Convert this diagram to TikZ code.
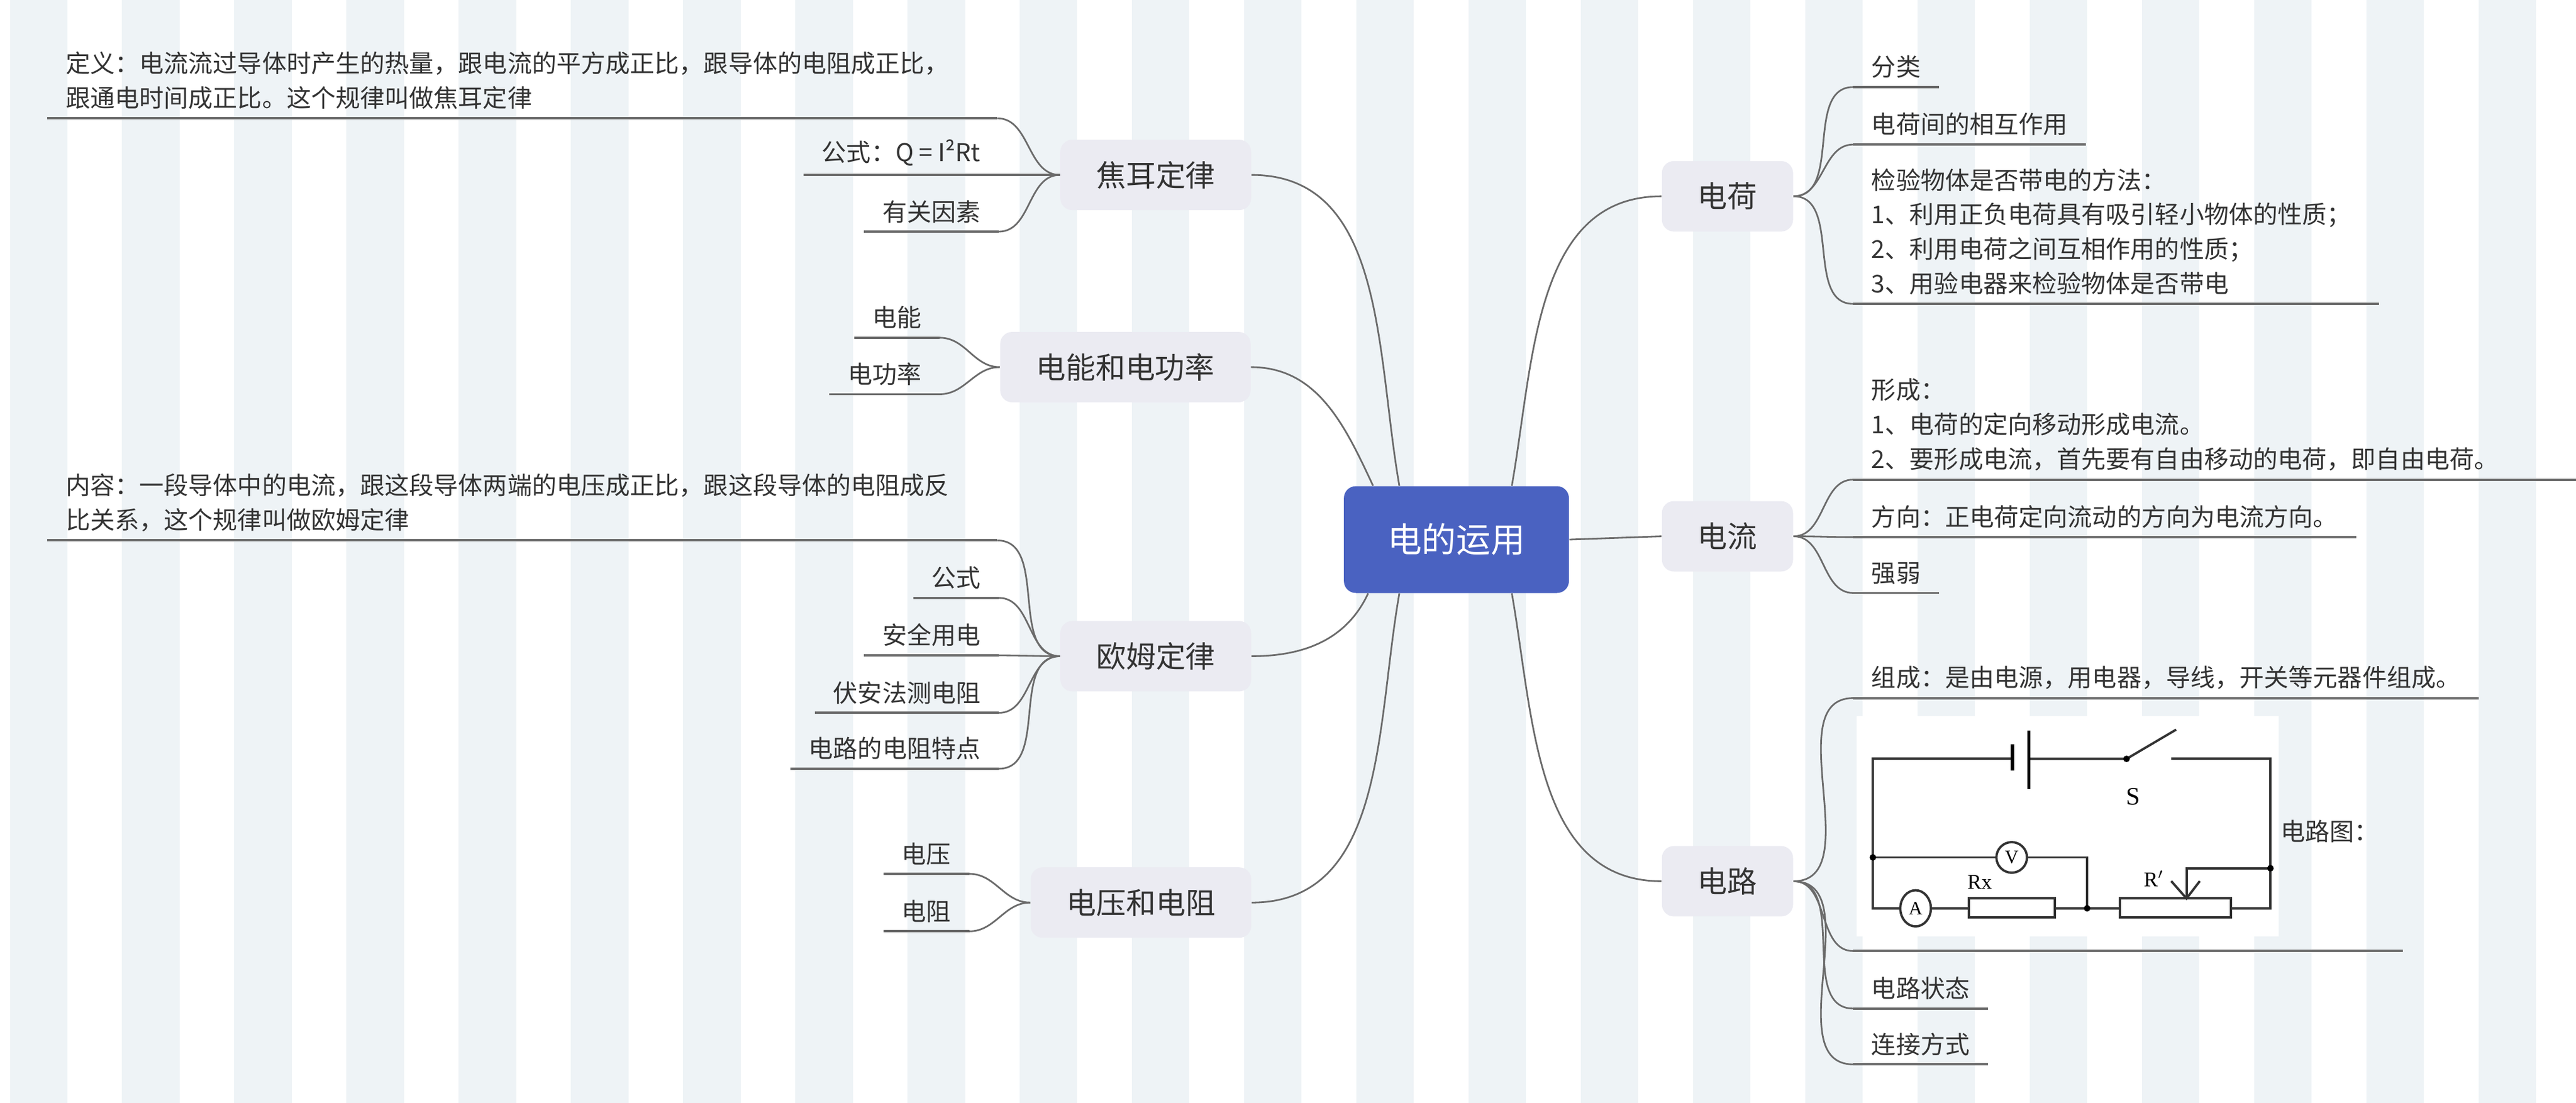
\documentclass[tikz,border=0pt]{standalone}
\usepackage{fontspec}
\setmainfont{Noto Sans CJK SC}
\newfontfamily\circfont{Liberation Serif}
\usetikzlibrary{positioning,calc}
\definecolor{rootblue}{HTML}{4A62C1}
\definecolor{topicgray}{HTML}{EBEBF2}
\definecolor{linegray}{HTML}{6B6B6B}
\definecolor{stripe}{HTML}{EEF3F6}
\definecolor{txt}{HTML}{333333}

\begin{document}
\begin{tikzpicture}[x=0.02752cm,y=-0.02752cm,
   root/.style = {fill=rootblue, rounded corners=0.2cm, text=white,
      minimum width=3.77cm, minimum height=1.79cm, font=\fontsize{16.4}{20}\selectfont},
   topic/.style = {fill=topicgray, rounded corners=0.2cm, text=txt, inner xsep=0.6cm,
      minimum height=1.18cm, font=\fontsize{14.2}{17}\selectfont},
   leafr/.style = {anchor=south west, inner xsep=0.3cm, inner ysep=0.14cm, text=txt,
      align=left, font=\fontsize{11.7}{16.5}\selectfont},
   leafl/.style = {leafr, anchor=south east},
   branch/.style = {draw=linegray, line width=0.8pt},
   uline/.style = {draw=linegray, line width=1.1pt},
   wire/.style = {draw=black!80, line width=1.1pt}]

   \useasboundingbox (0,0) rectangle (1568,671.5);
   \foreach \k in {0,...,22}
      \fill[stripe] ({6+68.3*\k},0) rectangle ++(35,671.5);

   % main topics
   \node[root]  (root)     at (886.5,328.5) {电的运用};
   \node[topic] (jiaoer)   at (703.5,106.5) {焦耳定律};
   \node[topic] (dianneng) at (685,223.5)   {电能和电功率};
   \node[topic] (oumu)     at (703.5,399.5) {欧姆定律};
   \node[topic] (dianya)   at (694.5,549.5) {电压和电阻};
   \node[topic] (dianhe)   at (1051.5,119.5) {电荷};
   \node[topic] (dianliu)  at (1051.5,326.5) {电流};
   \node[topic] (dianlu)   at (1051.5,536.5) {电路};

   \draw[branch] (jiaoer.east)   to[out=0,in=100]  ($(root.north west)+(34,0)$);
   \draw[branch] (dianneng.east) to[out=0,in=115]  ($(root.north west)+(18,0)$);
   \draw[branch] (oumu.east)     to[out=0,in=-115] ($(root.south west)+(15,0)$);
   \draw[branch] (dianya.east)   to[out=0,in=-100] ($(root.south west)+(34,0)$);
   \draw[branch] ($(root.north east)+(-35,0)$) to[out=80,in=180]  (dianhe.west);
   \draw[branch] (root.east) -- (dianliu.west);
   \draw[branch] ($(root.south east)+(-35,0)$) to[out=-80,in=180] (dianlu.west);

   % left leaves
   \node[leafl, text width=15.3cm] (dingyi) at (607,72)
      {定义：电流流过导体时产生的热量，跟电流的平方成正比，跟导体的电阻成正比，\\跟通电时间成正比。这个规律叫做焦耳定律};
   \node[leafl] (gongshi) at (608,106.5) {公式：Q = I²Rt};
   \node[leafl] (yinsu)   at (608,141)   {有关因素};
   \node[leafl] (dn)      at (572,205.6) {电能};
   \node[leafl] (dgl)     at (572,240)   {电功率};
   \node[leafl, text width=15.3cm] (neirong) at (607,329)
      {内容：一段导体中的电流，跟这段导体两端的电压成正比，跟这段导体的电阻成反\\比关系，这个规律叫做欧姆定律};
   \node[leafl] (gongshib) at (608,364) {公式};
   \node[leafl] (anquan)   at (608,399) {安全用电};
   \node[leafl] (fuan)     at (608,434) {伏安法测电阻};
   \node[leafl] (tedian)   at (608,468) {电路的电阻特点};
   \node[leafl] (dy)       at (590,532) {电压};
   \node[leafl] (dz)       at (590,567) {电阻};

   \foreach \p/\c in {jiaoer/dingyi,jiaoer/yinsu,dianneng/dn,dianneng/dgl,
         oumu/neirong,oumu/gongshib,oumu/anquan,oumu/fuan,oumu/tedian,
         dianya/dy,dianya/dz}
      \draw[branch] (\p.west) to[out=180,in=0] (\c.south east);
   \draw[uline] (jiaoer.west) -- (gongshi.south east);
   \foreach \c in {dingyi,gongshi,yinsu,dn,dgl,neirong,gongshib,anquan,fuan,tedian,dy,dz}
      \draw[uline] (\c.south west) -- (\c.south east);

   % right leaves
   \node[leafr] (fenlei)  at (1128,53) {分类};
   \node[leafr] (xianghu) at (1128,88) {电荷间的相互作用};
   \node[leafr, text width=8.2cm] (jianyan) at (1128,185)
      {检验物体是否带电的方法：\\1、利用正负电荷具有吸引轻小物体的性质；\\2、利用电荷之间互相作用的性质；\\3、用验电器来检验物体是否带电};
   \node[leafr, text width=11.6cm] (xingcheng) at (1128,292)
      {形成：\\1、电荷的定向移动形成电流。\\2、要形成电流，首先要有自由移动的电荷，即自由电荷。};
   \node[leafr] (fangxiang) at (1128,327) {方向：正电荷定向流动的方向为电流方向。};
   \node[leafr] (qiangruo)  at (1128,361) {强弱};
   \node[leafr] (zucheng)   at (1128,425) {组成：是由电源，用电器，导线，开关等元器件组成。};
   \node[leafr, minimum width=9.2cm, minimum height=3.9cm] (tu) at (1128,579) {};
   \node[text=txt, font=\fontsize{11.7}{14}\selectfont] (tulabel) at (1418,506) {电路图：};
   \node[leafr] (zhuangtai) at (1128,614) {电路状态};
   \node[leafr] (lianjie)   at (1128,648) {连接方式};

   \foreach \p/\c in {dianhe/fenlei,dianhe/xianghu,dianhe/jianyan,
         dianliu/xingcheng,dianliu/fangxiang,dianliu/qiangruo,
         dianlu/zucheng,dianlu/tu,dianlu/zhuangtai,dianlu/lianjie}
      \draw[branch] (\p.east) to[out=0,in=180] (\c.south west);
   \foreach \c in {fenlei,xianghu,jianyan,xingcheng,fangxiang,qiangruo,zucheng,tu,zhuangtai,lianjie}
      \draw[uline] (\c.south west) -- (\c.south east);

   % circuit picture
   \fill[white] (1130,436) rectangle (1387,570);
   \draw[wire] (1224.9,462) -| (1140,553) -- (1156.5,553);
   \draw[wire] (1234.9,462) -- (1294.4,462) -- (1324.6,444.2);
   \draw[wire] (1321.5,462) -| (1382,553) -- (1358,553);
   \draw[line width=1.6pt] (1224.9,453) -- (1224.9,469);
   \draw[line width=1.2pt] (1234.9,444.7) -- (1234.9,480.4);
   \fill (1294.4,462) circle (2);
   \node[font=\circfont\large] (slabel) at (1298.5,485) {S};
   % voltmeter branch
   \draw[wire] (1140,522) -- (1215,522);
   \draw[wire] (1234,522) -| (1270.4,553);
   \draw[wire] (1224.5,522) circle (9.3);
   \node[font=\circfont\small] (vm) at (1224.5,522) {V};
   % ammeter and resistors
   \draw[wire] (1166,553) ellipse (9.3 and 11);
   \node[font=\circfont\small] (am) at (1166,553) {A};
   \draw[wire] (1175.3,553) -- (1198.4,553);
   \draw[wire] (1198.4,547) rectangle (1250.6,558.4);
   \draw[wire] (1250.6,553) -- (1290.2,553);
   \draw[wire] (1290.2,547) rectangle (1358,558.4);
   \node[font=\circfont] (rx) at (1205,537) {Rx};
   \node[font=\circfont] (rp) at (1311,535) {R$'$};
   \draw[wire] (1382,528.6) -| (1330.9,547);
   \draw[wire] (1321.6,536.4) -- (1330.9,547) -- (1339,536.4);
   \foreach \pt in {(1140,522),(1270.4,553),(1382,528.6)}
      \fill \pt circle (2);
\end{tikzpicture}
\end{document}
